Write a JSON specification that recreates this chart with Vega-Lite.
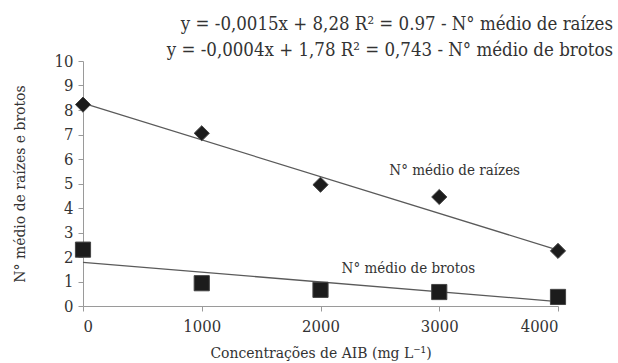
{
  "$schema": "https://vega.github.io/schema/vega-lite/v6.json",
  "width": 475,
  "height": 245,
  "autosize": {"type": "none"},
  "padding": {"left": 83, "top": 61, "right": 60, "bottom": 57},
  "background": "white",
  "config": {
    "view": {"stroke": null},
    "axis": {"grid": false, "domainColor": "#9a9a9a", "tickColor": "#9a9a9a", "labelFont": "DejaVu Serif Condensed", "titleFont": "DejaVu Serif Condensed", "labelFontSize": 16.5, "titleFontSize": 15.5, "labelColor": "#333333", "titleColor": "#333333", "titleFontWeight": "normal", "tickSize": 5, "labelOverlap": false}
  },
  "title": {
    "text": ["y = -0,0015x + 8,28  R² = 0.97 - N° médio de raízes", "y = -0,0004x + 1,78  R² = 0,743 - N° médio de brotos"],
    "anchor": "end",
    "frame": "group",
    "dx": 55,
    "dy": 16,
    "offset": 10,
    "font": "DejaVu Serif Condensed",
    "fontSize": 18.5,
    "fontWeight": "normal",
    "color": "#333333",
    "lineHeight": 26
  },
  "datasets": {
    "pts": [
      {"x": 0, "y": 8.22, "s": "raizes"},
      {"x": 1000, "y": 7.05, "s": "raizes"},
      {"x": 2000, "y": 4.95, "s": "raizes"},
      {"x": 3000, "y": 4.45, "s": "raizes"},
      {"x": 4000, "y": 2.25, "s": "raizes"},
      {"x": 0, "y": 2.3, "s": "brotos"},
      {"x": 1000, "y": 0.93, "s": "brotos"},
      {"x": 2000, "y": 0.66, "s": "brotos"},
      {"x": 3000, "y": 0.57, "s": "brotos"},
      {"x": 4000, "y": 0.37, "s": "brotos"}
    ],
    "lines": [
      {"x": 0, "y": 8.28, "s": "raizes"},
      {"x": 4000, "y": 2.28, "s": "raizes"},
      {"x": 0, "y": 1.78, "s": "brotos"},
      {"x": 4000, "y": 0.18, "s": "brotos"}
    ],
    "labels": [
      {"x": 3130, "y": 5.55, "t": "N° médio de raízes"},
      {"x": 2740, "y": 1.55, "t": "N° médio de brotos"}
    ]
  },
  "encoding": {
    "x": {"field": "x", "type": "quantitative", "scale": {"domain": [0, 4000]}, "axis": {"values": [0, 1000, 2000, 3000, 4000], "format": "d", "title": "Concentrações de AIB (mg L⁻¹)", "labelPadding": 7, "titlePadding": 11}},
    "y": {"field": "y", "type": "quantitative", "scale": {"domain": [0, 10]}, "axis": {"values": [0,1,2,3,4,5,6,7,8,9,10], "title": "N° médio de raízes e brotos", "labelPadding": 5, "titlePadding": 27}}
  },
  "layer": [
    {
      "data": {"name": "lines"},
      "mark": {"type": "line", "color": "#5a5a5a", "strokeWidth": 1.3},
      "encoding": {
        "detail": {"field": "s"}
      }
    },
    {
      "data": {"name": "pts"},
      "mark": {"type": "point", "filled": true, "opacity": 1, "color": "#1c1c1c", "stroke": "#444", "strokeWidth": 1},
      "encoding": {
        "shape": {"field": "s", "type": "nominal", "scale": {"domain": ["raizes", "brotos"], "range": ["diamond", "square"]}, "legend": null},
        "size": {"field": "s", "type": "nominal", "scale": {"domain": ["raizes", "brotos"], "range": [230, 230]}, "legend": null}
      }
    },
    {
      "data": {"name": "labels"},
      "mark": {"type": "text", "fontSize": 15, "color": "#333333", "font": "DejaVu Serif Condensed"},
      "encoding": {
        "text": {"field": "t"}
      }
    }
  ]
}
